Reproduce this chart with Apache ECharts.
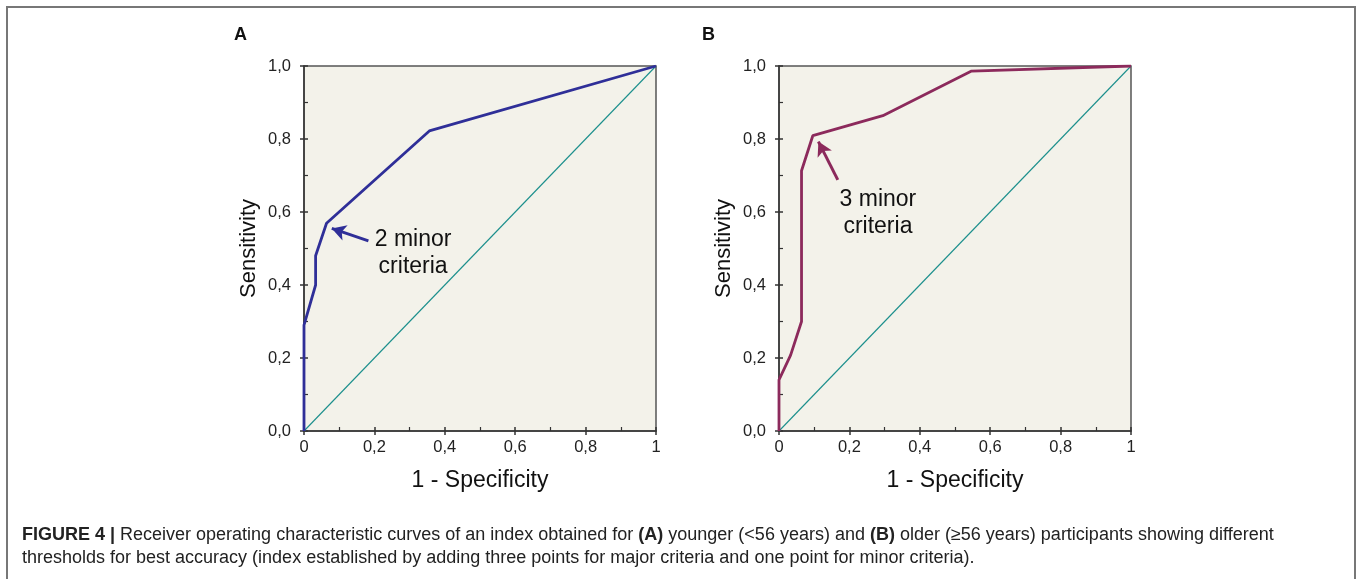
<!DOCTYPE html>
<html>
<head>
<meta charset="utf-8">
<script src="https://cdn.jsdelivr.net/npm/echarts@6/dist/echarts.min.js"></script>
<style>
    html, body { margin: 0; padding: 0; background: #fff; }
    #chart { width: 1358px; height: 579px; }
</style>
</head>
<body>
<div id="chart"></div>
<script>
// ROC points: [1 - specificity, sensitivity]
var rocYounger = [[0, 0], [0, 0.29], [0.033, 0.40], [0.033, 0.48], [0.064, 0.569], [0.356, 0.822], [1, 1]];
var rocOlder = [[0, 0], [0, 0.14], [0.033, 0.208], [0.064, 0.30], [0.064, 0.713], [0.096, 0.809], [0.295, 0.864], [0.547, 0.986], [1, 1]];
var chanceLine = [[0, 0], [1, 1]];

// arrows [tail, tip] and annotation positions
var arrowA = [[0.183, 0.521], [0.079, 0.555]];
var arrowB = [[0.167, 0.688], [0.112, 0.793]];
var noteA = { pos: [0.310, 0.488], text: '2 minor\ncriteria' };
var noteB = { pos: [0.281, 0.598], text: '3 minor\ncriteria' };

var panelLabels = ['A', 'B'];
var xTitle = '1 - Specificity';
var yTitle = 'Sensitivity';
var captionBold = 'FIGURE 4 | ';
var captionLine1 = 'Receiver operating characteristic curves of an index obtained for {b|(A)} younger (<56 years) and {b|(B)} older (\u226556 years) participants showing different';
var captionLine2 = 'thresholds for best accuracy (index established by adding three points for major criteria and one point for minor criteria).';

var font = 'Liberation Sans, Arial, sans-serif';
var narrow = 'Liberation Sans Narrow, ' + font;
var colA = '#2f2f98';
var colB = '#8c2a5c';
var teal = '#1b8f8c';

function fmtX(v) {
    if (v === 0) return '0';
    if (v === 1) return '1';
    return v.toFixed(1).replace('.', ',');
}
function fmtY(v) {
    return v.toFixed(1).replace('.', ',');
}

function makeX(idx) {
    return [{
        type: 'value', gridIndex: idx, min: 0, max: 1, interval: 0.2,
        name: xTitle, nameLocation: 'middle', nameGap: 38,
        nameTextStyle: { fontSize: 23, color: '#111', fontFamily: font },
        axisLine: { onZero: false, lineStyle: { color: '#333', width: 1.5 } },
        axisTick: { length: 4, lineStyle: { color: '#333', width: 1.5 } },
        axisLabel: { formatter: fmtX, fontSize: 16.5, color: '#222', fontFamily: font, margin: 8 },
        splitLine: { show: false }
    }, {
        type: 'value', gridIndex: idx, min: 0, max: 1, interval: 0.2, position: 'bottom',
        axisLine: { show: false },
        axisTick: { inside: true, length: 4, lineStyle: { color: '#333', width: 1.5 } },
        minorTick: { show: true, splitNumber: 2, length: 4, lineStyle: { color: '#333', width: 1.2 } },
        axisLabel: { show: false },
        splitLine: { show: false }
    }];
}
function makeY(idx) {
    return [{
        type: 'value', gridIndex: idx, min: 0, max: 1, interval: 0.2,
        name: yTitle, nameLocation: 'middle', nameGap: 44,
        nameTextStyle: { fontSize: 22, color: '#111', fontFamily: font },
        axisLine: { onZero: false, lineStyle: { color: '#333', width: 1.5 } },
        axisTick: { length: 4, lineStyle: { color: '#333', width: 1.5 } },
        axisLabel: { formatter: fmtY, fontSize: 16.5, color: '#222', fontFamily: font, margin: 13 },
        splitLine: { show: false }
    }, {
        type: 'value', gridIndex: idx, min: 0, max: 1, interval: 0.2, position: 'left',
        axisLine: { show: false },
        axisTick: { inside: true, length: 4, lineStyle: { color: '#333', width: 1.5 } },
        minorTick: { show: true, splitNumber: 2, length: 4, lineStyle: { color: '#333', width: 1.2 } },
        axisLabel: { show: false },
        splitLine: { show: false }
    }];
}

function curve(idx, data, color, arrow, note) {
    return {
        type: 'line', xAxisIndex: idx * 2, yAxisIndex: idx * 2, data: data,
        symbol: 'none', z: 5,
        lineStyle: { color: color, width: 2.8 },
        markLine: {
            silent: true, symbol: ['none', 'arrow'], symbolSize: [12, 14],
            lineStyle: { color: color, width: 3, type: 'solid' },
            label: { show: false },
            data: [[{ coord: arrow[0] }, { coord: arrow[1] }]]
        },
        markPoint: {
            silent: true, symbol: 'circle', symbolSize: 0,
            label: {
                show: true, position: 'inside', formatter: note.text,
                fontSize: 23, lineHeight: 27, color: '#111', fontFamily: font, align: 'center'
            },
            data: [{ coord: note.pos }]
        }
    };
}
function chance(idx) {
    return {
        type: 'line', xAxisIndex: idx * 2, yAxisIndex: idx * 2, data: chanceLine,
        symbol: 'none', z: 3, lineStyle: { color: teal, width: 1.1 }
    };
}

var chart = echarts.init(document.getElementById('chart'));
var option = {
    backgroundColor: '#fff',
    animation: false,
    grid: [
        { left: 304, top: 66, width: 352, height: 365, show: true, backgroundColor: '#f3f2ea', borderColor: '#555', borderWidth: 1.5 },
        { left: 779, top: 66, width: 352, height: 365, show: true, backgroundColor: '#f3f2ea', borderColor: '#555', borderWidth: 1.5 }
    ],
    xAxis: makeX(0).concat(makeX(1)),
    yAxis: makeY(0).concat(makeY(1)),
    series: [
        chance(0), curve(0, rocYounger, colA, arrowA, noteA),
        chance(1), curve(1, rocOlder, colB, arrowB, noteB)
    ],
    graphic: [
        { type: 'polyline', shape: { points: [[7, 579], [7, 7], [1355, 7], [1355, 579]] }, style: { stroke: '#777', lineWidth: 2, fill: null } },
        { type: 'text', left: 234, top: 26, style: { text: panelLabels[0], font: 'bold 18px ' + font, fill: '#111' } },
        { type: 'text', left: 702, top: 26, style: { text: panelLabels[1], font: 'bold 18px ' + font, fill: '#111' } },
        {
            type: 'text', left: 22, top: 524,
            style: {
                text: '{b|' + captionBold + '}' + captionLine1 + '\n' + captionLine2,
                font: '18px ' + narrow, fill: '#222', lineHeight: 23,
                rich: { b: { fontWeight: 'bold', fontSize: 18, fontFamily: narrow, fill: '#222' } }
            }
        }
    ]
};
chart.setOption(option);
</script>
</body>
</html>
